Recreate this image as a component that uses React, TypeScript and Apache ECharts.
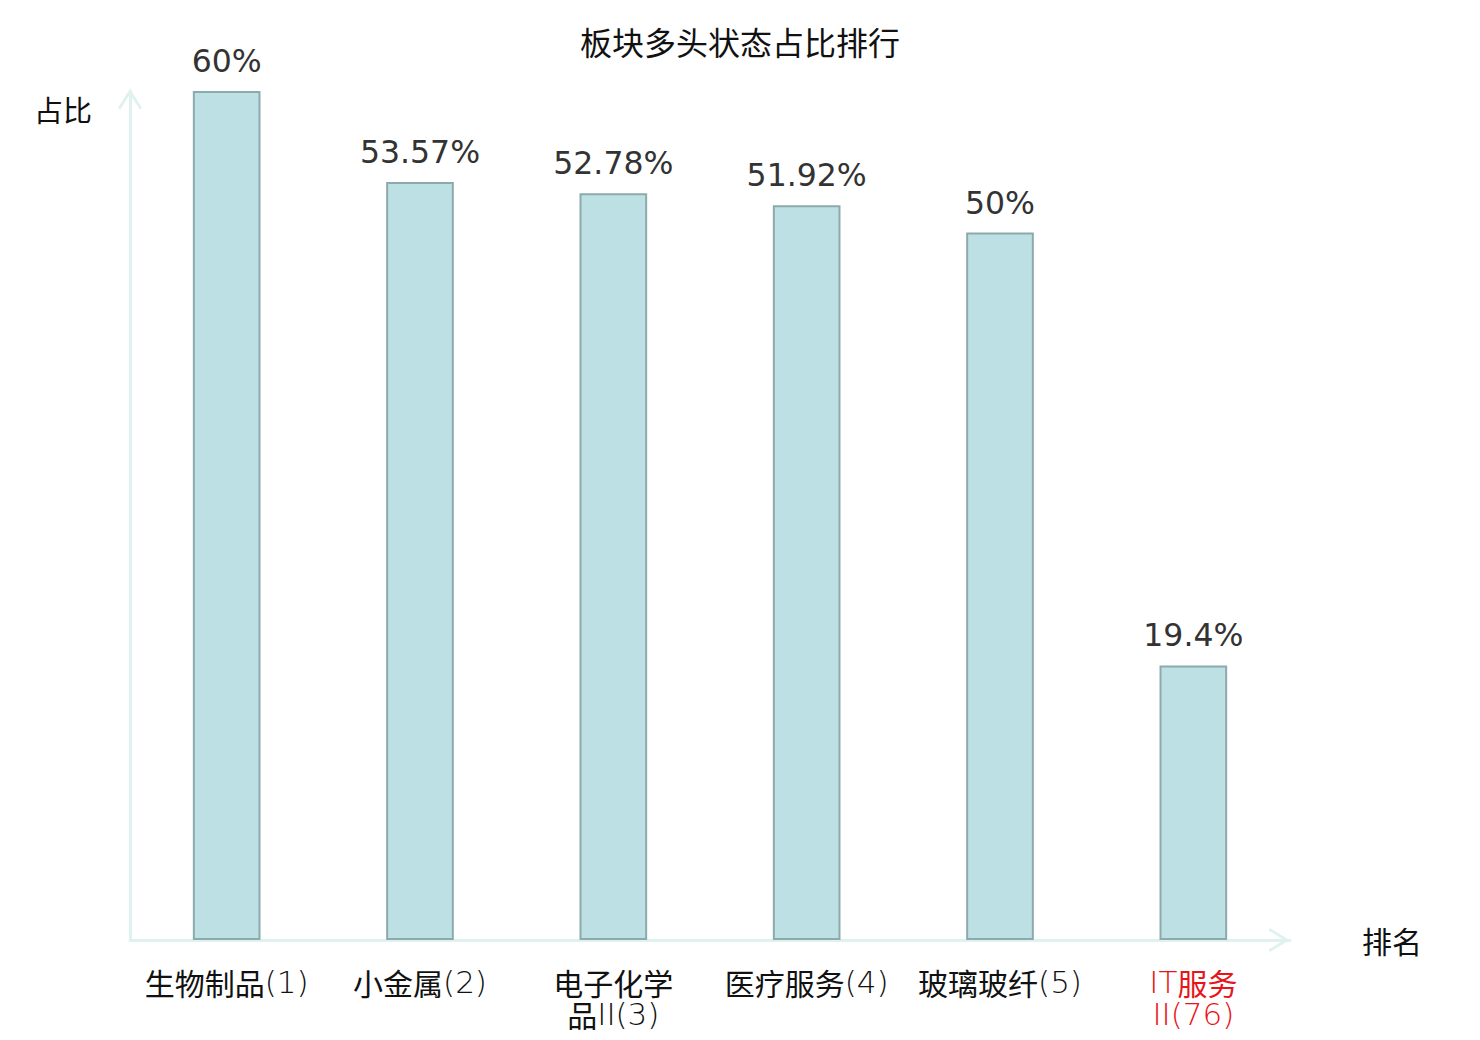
import React, { useEffect, useRef } from "react";
import * as echarts from "echarts";

const titleText = "板块多头状态占比排行";
const categories = ["生物制品(1)", "小金属(2)", "电子化学品II(3)", "医疗服务(4)", "玻璃玻纤(5)", "IT服务II(76)"];
const values = [60, 53.57, 52.78, 51.92, 50, 19.4];
const highlightIndex = 5;
const yName = "占比";
const xName = "排名";

const chevron = "path://M12,0 L24,19.5 L21.6,21 L12,5.6 L2.4,21 L0,19.5 Z";

function richLabel(v: string): string {
  const text = v.length > 8 ? v.slice(0, 4) + "\n" + v.slice(4) : v;
  return text
    .split("\n")
    .map((line) =>
      line
        .split(/([\u4e00-\u9fff]+)/)
        .filter((s) => s.length > 0)
        .map((s) => (/[\u4e00-\u9fff]/.test(s) ? `{c|${s}}` : `{l|${s}}`))
        .join("")
    )
    .join("\n");
}

export default function App() {
  const ref = useRef<HTMLDivElement>(null);
  useEffect(() => {
    if (!ref.current) return;
    const chart = echarts.init(ref.current, null, { renderer: "svg" });
    const axisColor = "#dff2ef";
    chart.setOption({
      animation: false,
      backgroundColor: "#ffffff",
      title: {
        text: titleText,
        left: "center",
        top: 12,
        textStyle: { fontSize: 32, fontWeight: "normal", color: "#111", fontFamily: "Noto Sans CJK SC" },
      },
      graphic: [
        {
          type: "text",
          left: 26,
          top: 86,
          style: { text: yName, fontSize: 29, fill: "#111", fontFamily: "Noto Sans CJK SC" },
        },
      ],
      grid: { left: 122, right: 182, top: 83, bottom: 92, containLabel: false },
      xAxis: {
        type: "category",
        data: categories.map((c, i) =>
          i === highlightIndex ? { value: c, textStyle: { color: "#e8141a" } } : c
        ),
        name: xName,
        nameLocation: "end",
        nameGap: 72,
        nameTextStyle: { fontSize: 30, color: "#111", fontFamily: "Noto Sans CJK SC" },
        axisLine: {
          show: true,
          symbol: ["none", chevron],
          symbolSize: [24, 22],
          symbolOffset: [0, -11],
          lineStyle: { color: axisColor, width: 3 },
        },
        axisTick: { show: false },
        axisLabel: {
          interval: 0,
          fontSize: 31,
          lineHeight: 32,
          margin: 26,
          color: "#111",
          fontFamily: "Noto Sans CJK SC",
          formatter: richLabel,
          rich: {
            c: { fontSize: 30, lineHeight: 32, fontFamily: "Noto Sans CJK SC", fontWeight: "normal" },
            l: { fontSize: 31, lineHeight: 32, fontFamily: "DejaVu Sans", fontWeight: 200 },
          },
        },
      },
      yAxis: {
        type: "value",
        min: 0,
        max: 60,
        axisLine: {
          show: true,
          symbol: ["none", chevron],
          symbolSize: [24, 22],
          symbolOffset: [0, -8],
          lineStyle: { color: axisColor, width: 3 },
        },
        axisTick: { show: false },
        axisLabel: { show: false },
        splitLine: { show: false },
      },
      series: [
        {
          type: "bar",
          data: values,
          barWidth: "35%",
          itemStyle: { color: "#bce0e3", borderColor: "#8caaac", borderWidth: 2 },
          label: {
            show: true,
            position: "top",
            distance: 14,
            fontSize: 31.5,
            color: "#333",
            fontFamily: "DejaVu Sans",
            formatter: (p: any) => p.value + "%",
          },
        },
      ],
    });
    return () => chart.dispose();
  }, []);
  return <div ref={ref} style={{ width: 1464, height: 1024 }} />;
}
